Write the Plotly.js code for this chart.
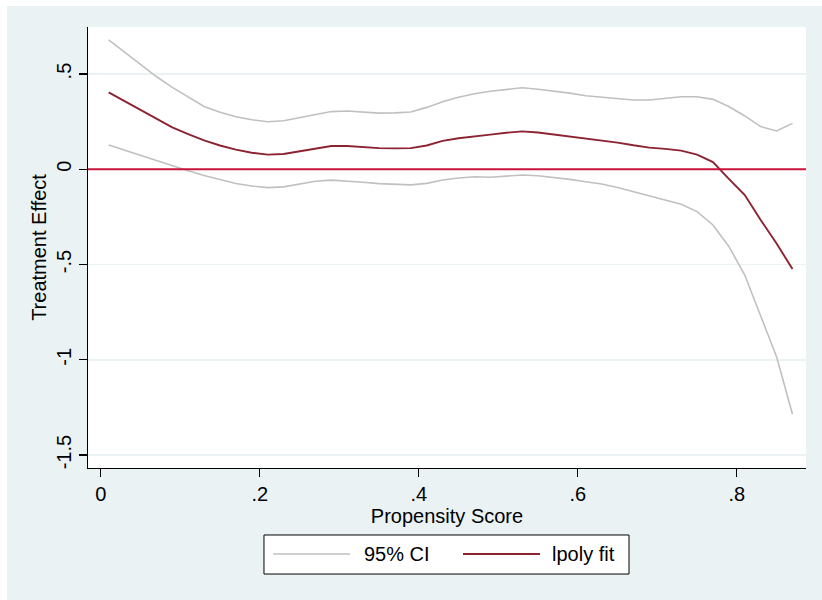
<!DOCTYPE html>
<html>
<head>
<meta charset="utf-8">
<script src="https://cdn.plot.ly/plotly-3.0.1.min.js"></script>
<style>
  html, body { margin: 0; padding: 0; background: #ffffff; }
  #chart { position: absolute; left: 7px; top: 6px; width: 815px; height: 594px; }
</style>
</head>
<body>
<div id="chart"></div>
<script>
// Propensity score grid (lpoly evaluation points)
const propensity = [0.01,0.03,0.05,0.07,0.09,0.11,0.13,0.15,0.17,0.19,0.21,0.23,0.25,0.27,0.29,0.31,0.33,0.35,0.37,0.39,0.41,0.43,0.45,0.47,0.49,0.51,0.53,0.55,0.57,0.59,0.61,0.63,0.65,0.67,0.69,0.71,0.73,0.75,0.77,0.79,0.81,0.83,0.85,0.87];

const ciUpper = [0.68,0.615,0.55,0.487,0.43,0.378,0.33,0.30,0.276,0.26,0.25,0.255,0.272,0.29,0.303,0.306,0.300,0.295,0.296,0.301,0.325,0.355,0.378,0.397,0.41,0.42,0.428,0.42,0.41,0.40,0.386,0.378,0.37,0.364,0.364,0.372,0.381,0.381,0.367,0.33,0.28,0.224,0.201,0.241];

const lpolyFit = [0.404,0.357,0.31,0.264,0.22,0.185,0.152,0.125,0.103,0.087,0.077,0.08,0.093,0.11,0.122,0.122,0.116,0.111,0.110,0.111,0.125,0.149,0.163,0.174,0.182,0.192,0.199,0.193,0.183,0.172,0.162,0.153,0.14,0.126,0.114,0.107,0.098,0.077,0.038,-0.05,-0.135,-0.266,-0.389,-0.524];

const ciLower = [0.128,0.10,0.072,0.045,0.018,-0.008,-0.033,-0.056,-0.075,-0.088,-0.096,-0.092,-0.078,-0.063,-0.057,-0.061,-0.068,-0.075,-0.079,-0.082,-0.074,-0.056,-0.046,-0.039,-0.042,-0.036,-0.030,-0.034,-0.042,-0.053,-0.065,-0.077,-0.096,-0.117,-0.138,-0.16,-0.183,-0.222,-0.292,-0.405,-0.555,-0.77,-0.984,-1.286];

const xTickVals = [0, 0.2, 0.4, 0.6, 0.8];
const xTickText = ["0", ".2", ".4", ".6", ".8"];
const yTickVals = [-1.5, -1, -0.5, 0, 0.5];
const yTickText = ["-1.5", "-1", "-.5", "0", ".5"];
const referenceLine = 0;
const seriesNames = ["95% CI", "lpoly fit"];

const FONT = "Liberation Sans, Arial, Helvetica, sans-serif";
const BG = "#eaf2f3";
const GRAY = "#c0c0c0";
const FIT = "#8c2331";
const REDLINE = "#c8143c";

const traces = [
  { x: propensity, y: ciUpper, type: "scatter", mode: "lines", name: seriesNames[0],
    line: { color: GRAY, width: 1.6 }, showlegend: false, hoverinfo: "x+y" },
  { x: propensity, y: ciLower, type: "scatter", mode: "lines", name: seriesNames[0],
    line: { color: GRAY, width: 1.6 }, showlegend: false, hoverinfo: "x+y" },
  { x: propensity, y: lpolyFit, type: "scatter", mode: "lines", name: seriesNames[1],
    line: { color: FIT, width: 1.9 }, showlegend: false, hoverinfo: "x+y" }
];

// manual Stata-style legend (box, long line keys, labels)
const legY = -0.195;
const shapes = [
  { type: "line", xref: "paper", yref: "y", x0: 0, x1: 1, y0: referenceLine, y1: referenceLine,
    line: { color: REDLINE, width: 1.9 }, layer: "above" },
  { type: "rect", xref: "paper", yref: "paper", x0: 0.2451, x1: 0.7535, y0: -0.1519, y1: -0.2404,
    fillcolor: "#ffffff", line: { color: "#000000", width: 1 } },
  { type: "line", xref: "paper", yref: "paper", x0: 0.2577, x1: 0.3649, y0: legY, y1: legY,
    line: { color: GRAY, width: 1.6 } },
  { type: "line", xref: "paper", yref: "paper", x0: 0.5223, x1: 0.6295, y0: legY, y1: legY,
    line: { color: FIT, width: 1.9 } }
];

const annotations = [
  { xref: "paper", yref: "paper", x: 0.381, y: legY, xanchor: "left", yanchor: "middle",
    text: seriesNames[0], showarrow: false, font: { family: FONT, size: 20, color: "#000" } },
  { xref: "paper", yref: "paper", x: 0.644, y: legY, xanchor: "left", yanchor: "middle",
    text: seriesNames[1], showarrow: false, font: { family: FONT, size: 20, color: "#000" } }
];

const layout = {
  width: 815, height: 594,
  margin: { l: 81, r: 16, t: 21, b: 132, pad: 0 },
  paper_bgcolor: BG,
  plot_bgcolor: "#ffffff",
  font: { family: FONT, size: 20, color: "#000" },
  showlegend: false,
  xaxis: {
    range: [-0.016, 0.887],
    tickvals: xTickVals, ticktext: xTickText,
    ticks: "outside", ticklen: 8, tickwidth: 1.2, tickcolor: "#000",
    showline: true, linecolor: "#000", linewidth: 1.2,
    showgrid: false, zeroline: false,
    tickfont: { family: FONT, size: 20, color: "#000" },
    title: { text: "Propensity Score", font: { family: FONT, size: 20, color: "#000" }, standoff: 0 },
    automargin: false
  },
  yaxis: {
    range: [-1.568, 0.747],
    tickvals: yTickVals, ticktext: yTickText,
    tickangle: -90,
    ticks: "outside", ticklen: 8, tickwidth: 1.2, tickcolor: "#000",
    showline: true, linecolor: "#000", linewidth: 1.2,
    showgrid: true, gridcolor: BG, gridwidth: 1.5,
    zeroline: false,
    tickfont: { family: FONT, size: 20, color: "#000" },
    title: { text: "Treatment Effect", font: { family: FONT, size: 20, color: "#000" }, standoff: 0 },
    automargin: false
  },
  shapes: shapes,
  annotations: annotations
};

Plotly.newPlot("chart", traces, layout, { displayModeBar: false, staticPlot: true });
</script>
</body>
</html>
